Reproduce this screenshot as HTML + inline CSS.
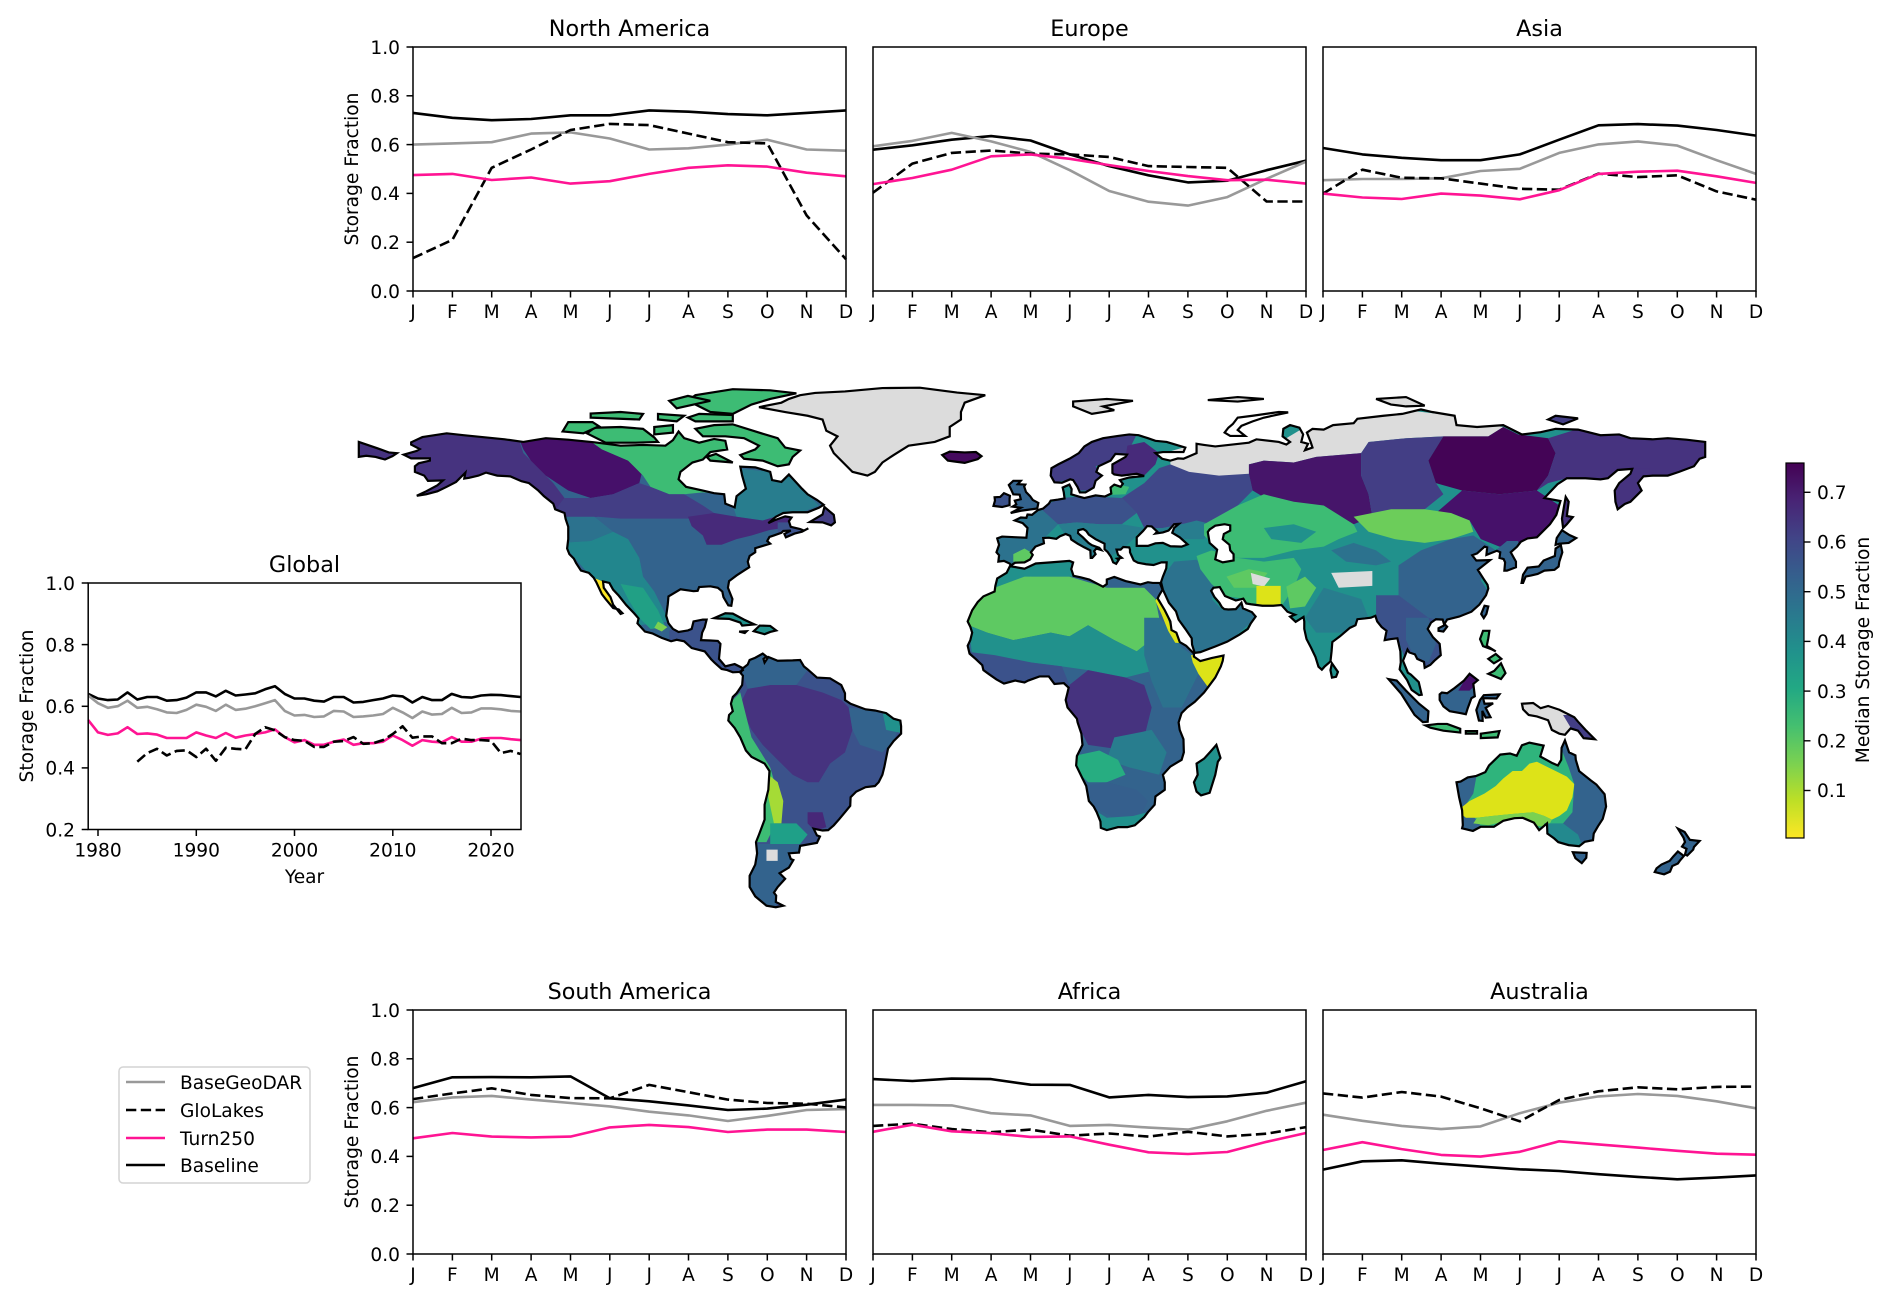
<!DOCTYPE html>
<html>
<head>
<meta charset="utf-8">
<style>
  html, body { margin:0; padding:0; background:#ffffff; }
  body { width:1892px; height:1304px; overflow:hidden; }
  svg { display:block; font-family:"DejaVu Sans","Liberation Sans",sans-serif; }
  .t { font-size:18.6px; fill:#000; }
  .ti { font-size:22.3px; fill:#000; }
</style>
</head>
<body>
<svg width="1892" height="1304" viewBox="0 0 1892 1304" xmlns="http://www.w3.org/2000/svg">
<defs>
  <linearGradient id="vir" x1="0" y1="0" x2="0" y2="1">
    <stop offset="0" stop-color="#440154"/>
    <stop offset="0.1" stop-color="#482475"/>
    <stop offset="0.2" stop-color="#414487"/>
    <stop offset="0.3" stop-color="#355f8d"/>
    <stop offset="0.4" stop-color="#2a788e"/>
    <stop offset="0.5" stop-color="#21918c"/>
    <stop offset="0.6" stop-color="#22a884"/>
    <stop offset="0.7" stop-color="#44bf70"/>
    <stop offset="0.8" stop-color="#7ad151"/>
    <stop offset="0.9" stop-color="#bddf26"/>
    <stop offset="1" stop-color="#fde725"/>
  </linearGradient>
</defs>

<!-- ================= MAP ================= -->
<g transform="matrix(3.74 0 0 -3.74 1032 700)">
  <defs>
    <polygon id="pNA" vector-effect="non-scaling-stroke" points="-166,68.9 -163,70.3 -156.5,71.3 -152,70.8 -145,70.1 -141,69.7 -136,69 -130,70 -124,69.6 -117,68.9 -110,68 -104,68.2 -98,68 -96,69.5 -94.5,71.8 -93,70 -89,68.8 -85,69.8 -82,69.3 -81.5,67 -86,66.3 -88,64.3 -90.8,63.5 -94,61 -94.5,59 -92.5,57 -88,56 -85,55.3 -82.3,55 -82,52.5 -79.5,51.5 -79,54.5 -76.5,56.5 -77.5,60 -78,62.4 -74,62.2 -70,61 -69.5,58.8 -67,58.3 -65,60.3 -61.5,56.5 -60,55 -57.5,53.5 -55.7,52.2 -57,51.4 -60,50.2 -64,50.2 -66.5,50 -68.5,49 -70.5,47.3 -69,48 -66,49.1 -64.3,48.8 -65,47.8 -64.5,46.3 -62,45.7 -61,45.3 -59.8,45.9 -61.5,45 -63.5,44.5 -65.8,43.5 -66.2,44.4 -64.5,45.3 -66.5,45.2 -67,44.7 -69,44 -70.2,43.6 -70.8,42.5 -70,41.8 -72,41.2 -74,40.6 -74,39.5 -75.5,38.5 -76,37 -75.6,35.5 -77,34.6 -79,33.3 -81,31.8 -81.3,30 -80.1,27 -80.4,25.2 -81.2,25.3 -82.5,27.5 -82.8,29 -84,30 -86,30.4 -89,30.2 -89.4,29.2 -90.5,29.1 -94,29.6 -97.2,27.7 -97.4,25.5 -97.8,22.5 -97.2,20.5 -96,19 -94.5,18.2 -92,18.6 -91,19 -90.5,21 -88,21.5 -87,21.5 -87.5,19.5 -88.2,18 -88.5,16 -86,15.9 -84,15.8 -83.3,15 -83.6,12 -83.7,11 -82,9 -79.5,9.6 -77.5,8.6 -77.3,8 -78.2,7.5 -80,7.4 -81.5,8 -83,8.3 -84.8,9.9 -85.8,10.9 -87.5,13 -91,13.9 -93,15.7 -95,16.1 -96.5,15.7 -99,16.6 -101.5,17.8 -103.5,18.3 -105.5,20.5 -105.2,21.8 -106.4,23.2 -108.5,25.4 -110.5,27.9 -112,29.5 -113,31.3 -114.7,31.7 -114.5,30 -112.7,27.5 -112,25.5 -110,23 -109.5,23.2 -110.5,24.2 -112,24.6 -114,27 -115,28.3 -116.5,31.5 -117.2,32.7 -118.5,34 -120.6,34.6 -121.9,36.6 -122.5,37.8 -123.7,39 -124.3,40.5 -124,43 -124,46.3 -124.7,48.4 -125,50 -127.5,51 -128,52.5 -130.5,54.5 -132,56 -134.5,58 -136.5,58.5 -139.5,59.8 -143,60 -146,60.8 -148,60 -150.5,59.4 -151.8,59.2 -151.5,60.8 -154,58.3 -156.5,57 -159,55.8 -162,55 -164.5,54.6 -162,55.8 -159,57.4 -157.5,58.7 -161.5,58.6 -162.5,60 -165,61 -165,62.5 -164,63.3 -161,64 -161,64.6 -166,64.6 -168,65.6 -164.5,66.6 -163.7,67.1 -166,68.3"/>
    <polygon id="pSA" vector-effect="non-scaling-stroke" points="-77.3,8.5 -76,9.5 -75.5,10.7 -74,11.3 -72,12.4 -71,11.6 -71.8,11 -71.5,10 -70.5,11.5 -68,10.5 -64,10.6 -62,10.7 -61,9 -60,8.2 -57.5,6 -54,5.8 -52,4.6 -51,4 -50,1.8 -50,0 -48.5,-1 -44.5,-2.5 -42,-2.8 -39,-3.5 -37,-5 -35.2,-5.5 -35,-7 -35,-9 -37,-11 -38.5,-13 -39,-15.5 -39.5,-18 -40,-20 -41,-22 -42,-23 -44.5,-23.3 -47,-24.5 -48.5,-26 -48.6,-28.3 -50,-30 -51.5,-31.8 -53,-33.5 -54.5,-34.8 -56,-34.9 -58.4,-34.4 -57.5,-36.2 -56.7,-36.5 -57.5,-38.2 -62,-39 -62.3,-40.8 -65,-41 -64.5,-42.5 -63.8,-42.8 -65,-44.8 -67.5,-46.3 -66,-47.8 -68,-50 -69,-51.5 -68.4,-52.3 -68.5,-54 -66.5,-55 -68.5,-55.4 -71,-55 -74,-52.5 -75.5,-50 -75.5,-47 -74,-44 -73.5,-41 -73.8,-38 -73,-36 -71.5,-32 -71.5,-28 -70.5,-24 -70.2,-19 -71.5,-17 -75,-15.2 -76.5,-13.5 -78,-10 -79.5,-7.5 -81.2,-5.5 -81,-4 -80,-3 -80.5,-1 -80,0.8 -79,1.8 -78.5,2.5 -77.5,4 -77.3,6.5 -77.9,7.2"/>
    <polygon id="pAF" vector-effect="non-scaling-stroke" points="-17.2,21 -16,24 -14.5,26.2 -13,27.7 -10,29 -9.8,30.5 -9.3,32.5 -6.8,34 -5.9,35.8 -2,35.1 1,36.5 5,36.8 10,37.2 11,36.8 10.5,35 11.1,33.2 13,32.8 15.3,32.2 19,30.3 20,31 20,32.2 22,32.9 25,31.8 29,30.9 31,31.5 32.3,31.3 34.2,31.3 34.9,29.5 34,28 33.6,27.2 35.5,24 37,21 37.3,18.7 38.6,18 39.5,15.5 41.2,14.5 43.3,12.4 43.3,11.6 45,10.4 48,11.2 51.2,11.9 51,10.5 50.5,9 49,6 47.5,4 46,2 43.5,-0.5 41.5,-2 40,-3.5 39.2,-6 39.5,-8 40.5,-10.5 40.6,-14 40,-16 37,-17.8 35,-20 35.5,-22 35.5,-24 33,-25.8 32.8,-28 31,-30 30,-31.3 27.5,-33.5 25.5,-34 23,-34 20,-34.8 18.4,-34.2 18.3,-32.5 17.3,-30 16.5,-28.5 15.2,-27 14.5,-23 13.5,-21 11.8,-17.5 12,-15 13.5,-12 13.2,-9 12.2,-6 12,-5 9.5,-2 9,0 9.5,2 9.8,3.3 8.5,4.5 6,4.3 4.5,6.3 2,6.3 -1,5.2 -2,4.7 -4.5,5.2 -7.5,4.4 -9.5,5.5 -11.5,6.9 -13,8 -13.3,9.3 -15,10.9 -16.7,12.4 -17.2,14.5 -16.5,16 -16,18 -16.5,19.6"/>
    <polygon id="pEU" vector-effect="non-scaling-stroke" points="-9.3,43.2 -8,43.7 -4,43.5 -1.5,43.4 -1.2,46 -2.5,47.3 -4.6,48 -3,48.8 -1.5,48.7 -1.2,49.6 0,49.5 1.6,50.8 3,51.2 4.5,52.5 5,53.3 7,53.6 8.7,53.9 8.5,55.5 8.2,56.8 10,57.6 10.6,56.4 10.5,55 12.5,54.4 14,54 17,54.7 19.5,54.4 21.2,55.2 21,56.8 22,57.6 23.7,57 24.3,57.8 23.5,58.8 26,59.5 30,59.9 28,60.5 24,60 22,60.3 21.5,60.7 21.5,63 25,65 25.4,65.6 22.3,65.8 21,64 17.8,62.5 17.2,61 18.7,60 17,58.6 16.5,56.8 14.3,55.5 12.8,55.5 12.2,56.9 11,58.8 10.2,59 8,58.1 6,58.2 5,60 5.2,62 7,63 10,64.5 12.5,66 14,67.8 16,69 19,70 23,70.6 26,71 28.5,70.8 31,70 33,69.3 36,69 41,67.5 40.5,66.3 35,66.3 33,66 34.8,64.5 37,64 39,64.6 40.5,64.5 44,66 44,68.5 46,68.2 49,67.8 53.5,68.3 58,68.8 60,69.7 66,69 68,68.3 69,69 67,70.5 67.2,72.5 69,73.5 71.5,72.8 72.5,71 72,69 73.8,68.5 73,66.8 75,67.5 74.5,69 73.5,71.5 75,72.5 78,72.3 80.5,73.5 86,74 87,75.2 94,76 99,76.5 104,77.7 107,77 113,76 113.5,73.5 119,73 126,73.5 129,72 131,71 136,71.6 140,72.5 146,72.3 152,70.8 157,71 160,70 166,69.7 170,70 175,69.6 180,69 180,65 178.5,64.5 177,62.5 173,61 170,60 166,60 163.5,59.8 162,58 163,56 161.8,54.8 160,53 158.5,52.4 156.6,51 156,53 155.8,56 157,58 160,60.5 160.5,61.8 156.6,61.5 154,59.3 152,59 148,59.3 143,59.3 140.5,57.7 137,54 141.3,53.2 140.2,49.5 138.5,47 135,43.5 132.5,43.2 130.7,42.3 129.7,41 128,39.5 129.4,37 129.4,35.5 127,34.6 126.3,34.6 126.5,36.8 126.1,37.7 125,38 125.2,39.5 124.3,39.9 121.5,38.8 121.7,40.8 121,41 119,39.2 117.7,38.7 118.8,37.3 122.5,37.4 119.2,34.8 120.8,32.3 121.8,30.8 122,29.8 121.4,28 119.6,25.5 117.5,23.6 114.2,22.3 111,21.5 110.2,20.2 109.8,21.5 108,21.6 106.7,20.7 105.8,19 107.2,16.8 109,15 109.3,12 107.6,10.5 106.5,9.4 105,8.6 104.8,10.2 103,11 102.4,12.2 100.9,12.7 100.4,13.5 99.2,10.5 100.5,7.3 101.3,6.8 103.4,4.8 104.2,1.4 103.5,1.3 101.5,2.7 100.3,5.3 98.3,8.2 98.6,10 98.5,13 97.7,16.5 96,16.3 94.3,16 94.8,18.5 93.5,19.5 92.3,21 91.8,22.5 90.6,22 89,21.8 87,21.6 86.5,20 85,19.3 82.3,17 80.3,15.5 80.1,13 79.8,10.3 78.2,8.9 77.5,8.1 76.6,8.9 75.8,11.5 74.6,14 73.4,16.3 72.8,19 72.8,21 72.6,22.2 70.5,20.9 69,22.3 70.3,22.8 68.3,23.6 66.7,25.4 64.5,25.2 61.6,25.2 58.5,25.6 57.3,25.8 56.5,27.1 54.5,26.6 51.6,27.8 50.2,30.2 48.5,30 47.9,29.2 48.8,27.5 50.1,26 50.8,24.8 51.4,24.3 52.5,24.2 54.5,24.3 56,26 56.4,24.5 58.8,23.5 59.8,22.3 58.5,20.5 57.7,19 55.5,17.5 52.2,15.6 49,14.3 45,12.8 43.5,12.6 42.8,14.8 42.7,16.5 41,19 39.2,21.5 38.5,23.7 36.6,26 35.7,28 35,29.5 34.5,31.5 35,33 35.9,35.2 36,36.8 34.6,36.8 32.5,36.1 30.5,36.3 28.3,36.7 27.2,37.3 26.7,38.4 26.2,39.5 26.2,40.2 26,40.8 24.4,40.9 23.7,40.2 22.6,40.2 23,38.8 24,38 22.8,37.8 23.2,37.5 22.5,36.4 21.7,36.8 21.1,38.3 20.2,39.6 19.4,40.3 19.4,41.8 17,43 15.2,44.2 14.5,45.2 13.7,45.7 12.4,45.4 12.3,44.6 13.6,43.5 15.1,42 16,41.4 18,40.7 18.5,40.1 17.2,40.5 16.6,39.8 17,39 16.1,38 15.7,38 15.6,40 14,40.8 12.2,41.8 10.5,42.9 10.2,43.9 9,44.4 7.5,43.8 6.5,43.1 4.5,43.4 3,43.3 3.2,41.9 0.9,41 -0.3,39.5 0.2,38.8 -0.5,37.6 -2,36.8 -4.5,36.7 -5.6,36 -6,36.5 -7.5,37.2 -9,37 -8.8,38.7 -9.5,39.5 -8.8,41.5"/>
    <polygon id="pAU" vector-effect="non-scaling-stroke" points="113.5,-22 114.2,-26 115,-29.5 115.2,-33.5 115,-34.3 117.9,-35 120,-33.9 123.5,-33.9 126,-32.3 129,-31.6 131.2,-31.5 134.2,-32.8 135.6,-34.8 137.7,-33 137.8,-35.7 139.6,-37 140.7,-38 143.5,-38.8 146.3,-39.1 147.8,-37.9 150,-37.5 150.2,-35.7 151.3,-33.8 152.6,-31.8 153.5,-28.5 153.1,-25.2 150.9,-22.6 149.4,-21.5 146.3,-19 145.4,-16 145.3,-14.8 143.6,-14 142.5,-10.8 141.6,-12.8 141.5,-16 140.6,-17.5 139,-16.8 135.9,-15.1 136.8,-12.2 133,-11.4 131,-12.1 129.6,-14.9 127.8,-14.3 125.2,-14.6 122.2,-17.5 121.2,-19.3 118.8,-20.3 116.5,-20.7 114.6,-21.8"/>
    <polygon id="pGL" vector-effect="non-scaling-stroke" points="-73,78.3 -66,77 -60,76 -56,75 -55,72 -52,70.5 -54,68 -53,66 -50,63 -48,61 -44,60 -42,61 -40,63.5 -37,65.5 -33,68 -26,69 -22,70.5 -22,73 -19,75 -19,77 -18,79.5 -12.5,81.5 -20,82.2 -30,83.5 -40,83.4 -50,82.5 -58,82.1 -62,81.5 -65,80.5 -67,79.5"/>
    <polygon id="pNG" vector-effect="non-scaling-stroke" points="131,-1 134,-0.8 136,-2.2 138,-1.6 141,-2.6 145,-4.6 146,-5.8 148,-8 150.5,-10.5 147.5,-10.2 146,-8.2 144,-7.6 142.5,-9.3 141,-9 139,-8 138,-5.4 135,-4.4 132.8,-4 131.3,-2.5"/>
    <polygon id="pBO" vector-effect="non-scaling-stroke" points="109,1.5 109.6,2 111,1.8 113,3.2 115.5,5.2 117,7 119.2,5.3 118,4.3 118.4,1 117.5,0.5 116.5,-2.2 116,-3.8 114.5,-3.5 111.7,-3 110,-1.7 109,0"/>
    <clipPath id="cNA"><use href="#pNA"/></clipPath>
    <clipPath id="cSA"><use href="#pSA"/></clipPath>
    <clipPath id="cAF"><use href="#pAF"/></clipPath>
    <clipPath id="cEU"><use href="#pEU"/></clipPath>
    <clipPath id="cAU"><use href="#pAU"/></clipPath>
    <clipPath id="cNG"><use href="#pNG"/></clipPath>
    <clipPath id="cBO"><use href="#pBO"/></clipPath>
  </defs>

  <!-- North America -->
  <g clip-path="url(#cNA)" stroke="none">
    <use href="#pNA" fill="#33638d"/>
    <polygon fill="#46337f" points="-170,72 -138,72 -136,66 -132,62 -128,58 -125,54 -128,50 -140,55 -170,52"/>
    <polygon fill="#46106a" points="-138,72 -122,72 -115,67 -108,64 -104,62 -105,58 -112,55 -118,54 -124,56 -130,60 -134,64 -136,67"/>
    <polygon fill="#3dbc74" points="-122,72 -80,72 -80,60 -82,55 -88,55.5 -93,55 -97,55 -102,57 -104,60 -108,64 -115,67"/>
    <polygon fill="#433e85" points="-128,50 -125,54 -118,54 -112,55 -105,58 -102,57 -97,55 -93,55 -88,52 -85,50 -92,48.5 -100,48.5 -110,48.5 -116,49 -121,48.5 -125,48"/>
    <polygon fill="#287d8e" points="-82,55 -80,62 -64,60.5 -60,55 -57,52 -62,50 -68,49 -72,48 -79,49 -80,52"/>
    <polygon fill="#472a7a" points="-92,49 -85,50 -79,49 -72,48 -67,49.5 -64,48.5 -66,46 -70,45.5 -75,44 -79,43 -83,41.5 -87,41.5 -88,44 -91,46.5"/>
    <polygon fill="#3b528b" points="-68,47.5 -55,47.5 -55,43 -68,43.5"/>
    <polygon fill="#2c728e" points="-126,49 -117,49 -112,45 -118,42.5 -126,42"/>
    <polygon fill="#22868d" points="-126,42 -118,42.5 -112,45 -108,43 -105,38 -104,33 -101,29 -99,25 -97,21 -105,20 -112,28 -118,33 -124,40"/>
    <polygon fill="#21a085" points="-110,31 -104,30 -100,24 -98,19.5 -102,19 -105,22 -108,27"/>
    <polygon fill="#7ad151" points="-100,21 -97.5,19.5 -99,18.3 -101,19.3"/>
    <polygon fill="#fde725" points="-117.5,32.8 -114.7,31.7 -114.5,30 -112.7,27.5 -112,25.5 -110,23 -109.5,23.2 -110.5,24.2 -112,24.6 -114,27 -115,28.3 -116.5,31.5"/>
    <polygon fill="#3b528b" points="-97,18.5 -92,22 -85,22 -75,5 -80,5 -90,12 -97,15"/>
  </g>
  <polygon fill="#46337f" stroke="#000" stroke-width="2.2" vector-effect="non-scaling-stroke" points="-180,69 -175,67.3 -172,66.2 -169.8,66 -171,65.2 -173,64.3 -175.5,65 -178,65.3 -180,65"/>

  <!-- Canadian Arctic islands -->
  <g fill="#3dbc74" stroke="#000" stroke-width="2.2">
    <polygon vector-effect="non-scaling-stroke" points="-80,73.7 -73,71.5 -68,70 -66,67.5 -62,66.7 -64,65 -65,63 -68,62.5 -72,64 -77,64.5 -78,65.5 -74,67 -73,68 -77,70 -82,70.5 -88,70.5 -90,72.5 -85,73.5"/>
    <polygon vector-effect="non-scaling-stroke" points="-80,76.5 -75,79 -70,80.5 -63,82 -70,82.8 -80,83.1 -90,81.5 -92,80 -88,78 -86,77"/>
    <polygon vector-effect="non-scaling-stroke" points="-80,74.5 -80,76.2 -89,76.5 -92,75.5 -90,74.5"/>
    <polygon vector-effect="non-scaling-stroke" points="-100,69 -106,68.8 -114,68.8 -119,71.3 -117,72.8 -110,73 -104,72.5 -101,70.2"/>
    <polygon vector-effect="non-scaling-stroke" points="-120,71.3 -125.5,71.8 -124,74.3 -117.5,74.3 -115.8,73.2"/>
    <polygon vector-effect="non-scaling-stroke" points="-118,75.5 -105,75 -104,76.5 -110,77 -118,76.6"/>
    <polygon vector-effect="non-scaling-stroke" points="-100,75 -95,74.5 -93,76 -100,76.5"/>
    <polygon vector-effect="non-scaling-stroke" points="-101,71 -96,71.5 -96,73.5 -101,73"/>
    <polygon vector-effect="non-scaling-stroke" points="-86,64 -80,63.5 -84.5,65.8 -87,65"/>
    <polygon vector-effect="non-scaling-stroke" points="-95,78 -86,80 -92,81.3 -97,80"/>
  </g>
  <polygon fill="#433e85" stroke="#000" stroke-width="2.2" vector-effect="non-scaling-stroke" points="-59.4,47.6 -56,49.6 -55.5,51.6 -53,49.5 -52.7,47.5 -53.7,46.7 -56,47.5"/>
  <use href="#pGL" fill="#dcdcdc" stroke="#000" stroke-width="2.2"/>
  <polygon fill="#450a5e" stroke="#000" stroke-width="2.2" vector-effect="non-scaling-stroke" points="-24,65.5 -22,66.4 -18,66.2 -15,66.3 -13.5,65.2 -14.5,64.4 -18,63.4 -21,63.8 -22.5,64"/>
  <g fill="#21918c" stroke="#000" stroke-width="2.2">
    <polygon vector-effect="non-scaling-stroke" points="-85,21.9 -82,23.2 -80,23.1 -77,21.5 -74.2,20.2 -77.5,19.9 -78,20.7 -81,21.7 -84,21.8"/>
    <polygon vector-effect="non-scaling-stroke" points="-74.4,18.4 -72.8,19.9 -70,19.8 -68.4,18.6 -70,18.2 -71.5,17.6"/>
    <polygon vector-effect="non-scaling-stroke" points="-78.3,18.3 -76.3,18.4 -76.8,17.9"/>
  </g>

  <!-- South America -->
  <g clip-path="url(#cSA)" stroke="none">
    <use href="#pSA" fill="#3b528b"/>
    <polygon fill="#46337f" points="-78,-1 -76,3 -70,4 -63,4 -56,2 -51,0 -49,-2 -48,-8 -50,-14 -54,-17 -57,-22 -60,-22 -64,-20 -68,-16 -72,-12 -75,-8 -77,-4"/>
    <polygon fill="#33638d" points="-78,9 -72,13 -62,11 -60,8 -63,4 -70,4 -76,3"/>
    <polygon fill="#33638d" points="-49,-2 -42,-2.8 -35,-6 -37,-11 -40,-14 -46,-12 -48,-8"/>
    <polygon fill="#21918c" points="-40,-3 -34,-5 -34,-9 -39,-8"/>
    <polygon fill="#3dbc74" points="-82,-4 -80,0 -78,2 -77,-2 -75,-10 -70,-18 -68,-25 -69,-34 -71,-38 -74.5,-38 -71.5,-28 -70.3,-19 -76,-14 -79.5,-7.5"/>
    <polygon fill="#a5db36" points="-70.5,-20 -68,-22 -66.5,-27 -67,-33 -69,-33 -70.5,-26"/>
    <polygon fill="#1fa088" points="-70,-33 -63,-33 -60,-36 -62,-38.5 -70,-38.5"/>
    <polygon fill="#33638d" points="-76,-38.5 -62,-38.5 -62,-41 -65,-45 -68,-50 -68.5,-56 -76,-56"/>
    <polygon fill="#472878" points="-60,-30 -56,-30 -55,-34 -58,-35 -60,-33"/>
    <polygon fill="#dcdcdc" points="-71,-40 -68,-40 -68,-43 -71,-43"/>
  </g>

  <!-- Africa -->
  <g clip-path="url(#cAF)" stroke="none">
    <use href="#pAF" fill="#33638d"/>
    <polygon fill="#21918c" points="-18,21 -18,29 -10,30 -9,33 -6,36 0,36.5 10,38 11.5,33 5,33 0,33 -5,31 -10,26"/>
    <polygon fill="#5ec962" points="-17,28 -10,30 -2,33 10,33 20,30 30,30 33,27 34,22 33,17 28,13 22,16 15,20 10,17 5,18 -5,16 -12,18 -17,20"/>
    <polygon fill="#21918c" points="-17,20 -12,18 -5,16 5,18 10,17 15,20 22,16 28,13 33,17 36,12 33,8 25,6 15,8 8,9 0,10 -8,11 -16,12"/>
    <polygon fill="#3b528b" points="-18,13 -10,12 0,10 8,9 10,4 5,4 -5,4 -12,6"/>
    <polygon fill="#2c728e" points="30,22 34,22 38,18 40,14 43,12 45,8 42,2 40,-2 35,-2 32,5 30,12"/>
    <polygon fill="#46337f" points="10,4 15,8 25,6 30,4 32,-2 30,-10 28,-14 22,-13 15,-12 12,-6 9,-1"/>
    <polygon fill="#dde318" points="42.5,12 51.5,12 49,6 47,3.5 44.5,7 43,10"/>
    <polygon fill="#dde318" points="33.4,27.3 35.6,24 37.2,19 38.8,17.8 39.8,15.2 38.3,15.3 36.4,18.5 34.6,23 33,26.5"/>
    <polygon fill="#287d8e" points="22,-10 32,-8 36,-14 34,-20 26,-18 20,-16"/>
    <polygon fill="#27ad81" points="11,-15 18,-13.5 23,-16 25,-20 20,-22 15,-22 12,-19"/>
    <polygon fill="#355f8d" points="14,-23 20,-22 28,-24 31,-27 29,-31 22,-31.5 17,-29"/>
    <polygon fill="#21918c" points="16,-29 20,-31.5 27,-31 31,-30 30,-33 26,-35 18,-35"/>
  </g>
  <polygon fill="#21918c" stroke="#000" stroke-width="2.2" vector-effect="non-scaling-stroke" points="49.3,-12 50.4,-15.5 49.7,-16.5 49,-20 47.5,-24.8 45.2,-25.5 44,-24.5 43.3,-22 44.3,-20 44,-17 46,-15.7 47.9,-13.6"/>

  <!-- Eurasia -->
  <g clip-path="url(#cEU)" stroke="none">
    <use href="#pEU" fill="#21918c"/>
    <polygon fill="#2c728e" points="-10,44 3.5,43.5 3.5,41 0,38.5 -2,36.5 -10,36"/>
    <polygon fill="#5ec962" points="-5,37 -1,37 0.5,39 -2,40.5 -5,39"/>
    <polygon fill="#2c728e" points="-5,49 -1,50 2,51.5 6,50 7,47 5,45 3,43 -1.5,43.4 -1.2,46 -2.5,47.3 -4.6,48"/>
    <polygon fill="#3b528b" points="2,51.5 8,54 14,54.5 24,54 28,50 24,47 18,47 12,47.5 7,47"/>
    <polygon fill="#287d8e" points="7,47 12,47.5 18,47 24,47 28,44 24,40 20,38 15,37 12,40 9,44"/>
    <polygon fill="#433e85" points="4,58 11,59 12,56 16,56 19,60 17,62.5 21,64 25.5,66 28,71 15,70 5,62"/>
    <polygon fill="#472a7a" points="21,60 30,60 33,63 34,66 30,69 25.5,68 25,65 21.5,63"/>
    <polygon fill="#3dbc74" points="20.5,54.8 25,55 26,57 22,57.8"/>
    <polygon fill="#3f4889" points="24,54 30,58 34,62 40,64 42,63 50,62 58,60.5 59,56 55,52 48,47 40,47 35,46 30,46 28,50"/>
    <polygon fill="#287d8e" points="24,47 30,46 35,46 40,47 44,48 48,47 46,43 40,43 35,44 30,45 27,44 22,44 20,46"/>
    <polygon fill="#dcdcdc" points="37,66.5 44,68.5 53,68.5 60,69.7 68,70 73,73 80,74 87,75.5 100,77.5 113,76 120,73.8 126,73 122,70.5 110,70.5 100,70 90,69 88,66 76,65 70,63.5 62,64 58,63 58,60.5 50,60 42,61 37,63"/>
    <polygon fill="#46156a" points="58,60.5 58,63 62,64 70,63.5 76,65 88,66 88,60 90,55 91,49 86,47 80,48 73,50 64,53 59,56"/>
    <polygon fill="#433e85" points="88,66 90,69 100,70 110,70.5 106,64 108,58 110,55 105,51 96,50 91,49 90,55 88,60"/>
    <polygon fill="#440456" points="106,64 110,70.5 122,70.5 126,73 130,71 138,70 140,66 138,60 135,56 125,55 115,56 108,58"/>
    <polygon fill="#46337f" points="138,70 146,72.5 180,70 180,62 170,60 162,58 155,59 143,59.3 138,58 135,56 138,60 140,66"/>
    <polygon fill="#46337f" points="155,62 165,62 165,50 155,50"/>
    <polygon fill="#46116a" points="108,50 115,56 125,55 135,56 141,52 139,47 135,43.5 130,42 125,41 120,43 117,48 112,50"/>
    <polygon fill="#3dbc74" points="46,47 55,52 62,55 70,53 78,52 86,47 87,45 82,43 78,41 70,40 62,38 55,38 50,40 46,44"/>
    <polygon fill="#21918c" points="62,46 70,47 76,45 72,42 64,43"/>
    <polygon fill="#6ccd5a" points="86,49 96,51 105,51 112,50 117,48 118,45 112,43 105,42 97,43 90,45"/>
    <polygon fill="#33638d" points="98,36 104,40 112,43 118,44 121,42 124,40 127,42.5 130,42.5 130,34 126,34 122,37 120,32 122,29 118,24 112,21 106,21 100,22 98,27"/>
    <polygon fill="#2c728e" points="80,40 86,42 92,40 96,37 92,36 84,37"/>
    <polygon fill="#dcdcdc" points="80,34 91,34.5 91,30.5 82,30"/>
    <polygon fill="#2c728e" points="35,33 38,37 44,37.5 48,34 50,30 48,27 51,24 56,26 60,22 52,15 43,12.5 39,21 35,29.5 34.5,31.5"/>
    <polygon fill="#3dbc74" points="44,38.5 48,40 55,38 62,37 70,38 72,35 70,30 67,25.5 58,25.6 56.5,27.1 51.6,27.8 48,31 45,35"/>
    <polygon fill="#5ec962" points="52,33 58,35 63,34 60,30 54,30"/>
    <polygon fill="#dcdcdc" points="58.5,34 63.7,32.5 62,30.3 59,31"/>
    <polygon fill="#dde318" points="60,30.5 66.5,30.5 66.5,25 60,25.3"/>
    <polygon fill="#5ec962" points="68,30.3 73,33 76,30 73,25 69,24.5"/>
    <polygon fill="#287d8e" points="73,22 78,30 88,27 90,22 84,18 76,18"/>
    <polygon fill="#3b528b" points="92,28 98,28 106,22 110,21 109,12 105,8.6 100,10 98,16 94,16 92,22"/>
    <polygon fill="#33638d" points="100,22 106,22 108,15 106,10 102,12 100,16"/>
  </g>
  <!-- seas -->
  <polygon fill="#fff" stroke="#000" stroke-width="2.2" vector-effect="non-scaling-stroke" points="28,41.2 28,43.5 29.7,45.2 30.8,46.5 32,46.4 33.5,45 33,44.5 35,44.8 36.5,45.3 38,47 39.3,47.1 38,46 37.5,44.7 39.5,43.5 41.6,41.6 40,41 37,41.1 35,42 33,41.9 31,41.2 29,41.2"/>
  <polygon fill="#fff" stroke="#000" stroke-width="2.2" vector-effect="non-scaling-stroke" points="47,44.9 47.5,45.6 49,46.6 51.5,47 53,46.7 53,45.3 51.3,44.4 51,43 52.8,41.5 53,40 53.9,39 53.9,37.3 51,36.8 49,37.6 49.5,40.2 47.5,42"/>

  <!-- Europe/Asia islands -->
  <polygon fill="#33638d" stroke="#000" stroke-width="2.2" vector-effect="non-scaling-stroke" points="-5.7,50 -3,50.6 1.4,51.2 1.7,52.7 0.2,53.5 -0.5,54.5 -1.6,55.6 -2.1,57.1 -1.8,57.6 -3.8,57.7 -3,58.6 -5,58.6 -6.2,57.5 -5.6,56.3 -5,55 -3.3,54.9 -3,53.7 -4.6,53.3 -4.2,52.3 -5.2,51.7 -3,51.4"/>
  <polygon fill="#3b528b" stroke="#000" stroke-width="2.2" vector-effect="non-scaling-stroke" points="-6,52.1 -6,53.8 -5.9,54.6 -7.5,55.3 -8.5,54.3 -10,54.2 -9.9,53.3 -10.3,51.9 -8,51.6"/>
  <g fill="#33638d" stroke="#000" stroke-width="2.2">
    <polygon vector-effect="non-scaling-stroke" points="130.9,31.3 131.3,33.5 132.5,35.4 135.5,35.7 136.8,37.3 139.8,38.5 140,40.5 141.4,41.4 141.8,39.5 141,37 140.8,35.7 139.7,34.8 137,34.6 135.2,33.7 133.5,33.3 132,33 131.3,31.3"/>
    <polygon vector-effect="non-scaling-stroke" points="140,41.5 140.3,43.3 141.7,45.4 143.7,44.1 145.5,43.3 143.5,42 141,41.8"/>
    <polygon vector-effect="non-scaling-stroke" points="120.1,23 121,25.2 122,25 121.5,23 120.8,21.9"/>
    <polygon vector-effect="non-scaling-stroke" points="108.7,19.2 110.5,20.1 111,19.6 110,18.3 108.7,18.5"/>
    <polygon vector-effect="non-scaling-stroke" points="95.3,5.6 97.5,5.2 100,2.5 103.5,-1 106,-3 105.8,-5.8 104.5,-5.9 102.3,-4 100.4,-1 98.7,1.7"/>
    <polygon vector-effect="non-scaling-stroke" points="119.5,-5.5 120.5,-5.6 120.4,-2.9 121.3,-4.7 122.6,-4.6 121.3,-2.1 123.3,-0.9 121,-1 120.6,0.5 124.2,0.4 125,1.5 120.8,1.3 119.8,0 118.8,-2.7"/>
    <polygon vector-effect="non-scaling-stroke" points="172.7,-34.4 174.5,-35.3 175.9,-37.4 178.5,-37.7 177,-39.3 176.8,-40 175.2,-41.6 174.6,-41.3 175,-39.8 173.8,-39.2 174.6,-38 174.2,-36.8"/>
    <polygon vector-effect="non-scaling-stroke" points="172.7,-40.5 174.3,-41.7 173.2,-43 172.7,-43.7 171.2,-44.4 170.6,-45.9 169,-46.6 166.5,-46 167,-45 168.3,-44 170.5,-43 171.5,-41.8"/>
    <polygon vector-effect="non-scaling-stroke" points="144.6,-40.7 148.3,-40.9 148.2,-42.2 147,-43.6 145.3,-42.3"/>
  </g>
  <polygon fill="#46337f" stroke="#000" stroke-width="2.2" vector-effect="non-scaling-stroke" points="142,46 141.7,48.5 142.2,51.5 142.7,54.3 143.5,53 143,49.2 144.6,48.9 143,47"/>
  <polygon fill="#21918c" stroke="#000" stroke-width="2.2" vector-effect="non-scaling-stroke" points="79.8,8 80.2,9.8 81.8,7.5 81.3,6.2 80.2,6"/>
  <g fill="#3dbc74" stroke="#000" stroke-width="2.2">
    <polygon vector-effect="non-scaling-stroke" points="105.2,-6.8 108.5,-6.4 111,-6.4 114.5,-7.7 114.5,-8.7 110,-8.2 106.5,-7.4"/>
    <polygon vector-effect="non-scaling-stroke" points="120.6,18.5 122.3,18.5 122,16.5 121.6,14.5 124,13 123,13.5 120.6,14.4 119.8,16.3"/>
    <polygon vector-effect="non-scaling-stroke" points="122,7 123.6,7.8 125.4,9.8 126.6,7.2 125.4,5.6 124,6.2"/>
    <polygon vector-effect="non-scaling-stroke" points="122,11 124,12.3 125.5,11 123.5,9.8"/>
    <polygon vector-effect="non-scaling-stroke" points="116,-8.3 119,-8.3 119,-9 116,-9"/>
    <polygon vector-effect="non-scaling-stroke" points="120,-9 125,-8.3 124.5,-10 120,-10.2"/>
  </g>
  <g clip-path="url(#cBO)" stroke="none">
    <use href="#pBO" fill="#33638d"/>
    <polygon fill="#46106a" points="114,2.5 117,7.5 120,5.3 117,2.5"/>
  </g>
  <use href="#pBO" fill="none" stroke="#000" stroke-width="2.2"/>
  <g clip-path="url(#cNG)" stroke="none">
    <use href="#pNG" fill="#dcdcdc"/>
    <polygon fill="#433e85" points="142,-4 146,-4 151,-11 145,-9"/>
  </g>
  <use href="#pNG" fill="none" stroke="#000" stroke-width="2.2"/>
  <g fill="#dcdcdc" stroke="#000" stroke-width="2.2">
    <polygon vector-effect="non-scaling-stroke" points="11,78.5 16,76.5 22,77.5 19,78.5 27,80 20,80.5 11,79.8"/>
    <polygon vector-effect="non-scaling-stroke" points="96,79 100,78.5 105,78.7 100,81 92,80.5"/>
    <polygon vector-effect="non-scaling-stroke" points="47,80.2 55,81 62,80.5 55,79.8"/>
  </g>
  <polygon fill="#ffffff" stroke="#000" stroke-width="2.2" vector-effect="non-scaling-stroke" points="51.5,71.5 53,70.6 57,70.6 55,72.2 56,73.3 59,74.5 62,75.5 68.5,76.9 66,77 59,76 55,75.5 53.7,73.8 52.5,72.8"/>
  <polygon fill="#433e85" stroke="#000" stroke-width="2.2" vector-effect="non-scaling-stroke" points="138,75 142,73.7 146,75.3 140,76"/>

  <!-- Australia -->
  <g clip-path="url(#cAU)" stroke="none">
    <use href="#pAU" fill="#2fb47c"/>
    <polygon fill="#33638d" points="111,-19 119,-19.5 118,-25 116,-28 118,-31 121,-35 111,-35"/>
    <polygon fill="#dde318" points="114.5,-29 117,-27 121,-25 124,-23 126,-21 128.5,-19 131,-19 133,-17 135,-16.5 137,-17.5 140,-19 143,-20.5 145,-22.5 144.5,-26 143,-29.5 141,-31 139,-32 137,-31 134,-30 128,-30.5 123,-31 119,-31.5 116,-31.5 114.8,-30.5"/>
    <polygon fill="#7ad151" points="119,-31.5 123,-31 128,-30.5 134,-30 137,-31 139,-32 138,-34 134,-33.5 128,-32 122,-33.5 118,-33"/>
    <polygon fill="#33638d" points="142,-10 145,-14 147,-19 150,-22 154,-25 154,-29 151,-34 150,-38 146,-40 141,-39 140,-36 142,-33 144.5,-30 145,-22.5 143.5,-18 141.5,-13"/>
    <polygon fill="#23898e" points="137,-33 142,-33 146,-36 147.5,-40 140,-39.5 136,-36"/>
  </g>
  <use href="#pAU" fill="none" stroke="#000" stroke-width="2.2"/>

  <!-- coastline strokes -->
  <use href="#pNA" fill="none" stroke="#000" stroke-width="2.2"/>
  <use href="#pSA" fill="none" stroke="#000" stroke-width="2.2"/>
  <use href="#pAF" fill="none" stroke="#000" stroke-width="2.2"/>
  <use href="#pEU" fill="none" stroke="#000" stroke-width="2.2"/>
</g>

<!-- ================= COLORBAR ================= -->
<rect x="1786" y="463" width="18" height="375" fill="url(#vir)" stroke="#000" stroke-width="1.2"/>
<g stroke="#000" stroke-width="1.4">
  <line x1="1804" y1="492.3" x2="1810.5" y2="492.3"/>
  <line x1="1804" y1="542" x2="1810.5" y2="542"/>
  <line x1="1804" y1="591.7" x2="1810.5" y2="591.7"/>
  <line x1="1804" y1="641.4" x2="1810.5" y2="641.4"/>
  <line x1="1804" y1="691.1" x2="1810.5" y2="691.1"/>
  <line x1="1804" y1="740.8" x2="1810.5" y2="740.8"/>
  <line x1="1804" y1="790.5" x2="1810.5" y2="790.5"/>
</g>
<g class="t">
  <text x="1817" y="499">0.7</text>
  <text x="1817" y="548.7">0.6</text>
  <text x="1817" y="598.4">0.5</text>
  <text x="1817" y="648.1">0.4</text>
  <text x="1817" y="697.8">0.3</text>
  <text x="1817" y="747.5">0.2</text>
  <text x="1817" y="797.2">0.1</text>
</g>
<text class="t" transform="translate(1869,650) rotate(-90)" text-anchor="middle">Median Storage Fraction</text>

<!-- ================= TOP ROW ================= -->
<text class="ti" x="629.5" y="36" text-anchor="middle">North America</text>
<text class="ti" x="1089.5" y="36" text-anchor="middle">Europe</text>
<text class="ti" x="1539.5" y="36" text-anchor="middle">Asia</text>
<text class="t" transform="translate(358,169) rotate(-90)" text-anchor="middle">Storage Fraction</text>
<g stroke="#000" stroke-width="1.5">
  <line x1="406.5" y1="291" x2="413" y2="291"/>
  <line x1="406.5" y1="242.2" x2="413" y2="242.2"/>
  <line x1="406.5" y1="193.4" x2="413" y2="193.4"/>
  <line x1="406.5" y1="144.6" x2="413" y2="144.6"/>
  <line x1="406.5" y1="95.8" x2="413" y2="95.8"/>
  <line x1="406.5" y1="47" x2="413" y2="47"/>
</g>
<g class="t" text-anchor="end">
  <text x="400" y="297.8">0.0</text>
  <text x="400" y="249">0.2</text>
  <text x="400" y="200.2">0.4</text>
  <text x="400" y="151.4">0.6</text>
  <text x="400" y="102.6">0.8</text>
  <text x="400" y="53.8">1.0</text>
</g>

<g fill="none" stroke-width="2.6" stroke-linejoin="round">
  <polyline stroke="#000" points="413,112.9 452.4,117.8 491.7,120.2 531.1,119 570.5,115.3 609.8,115.3 649.2,110.4 688.5,111.7 727.9,114.1 767.3,115.3 806.6,112.9 846,110.4"/>
  <polyline stroke="#999" points="413,144.6 452.4,143.4 491.7,142.2 531.1,133.6 570.5,132.4 609.8,138.5 649.2,149.5 688.5,148.3 727.9,144.6 767.3,139.7 806.6,149.5 846,150.7"/>
  <polyline stroke="#000" stroke-dasharray="10.3,4.5" points="413,258.1 452.4,239.8 491.7,167.8 531.1,149.5 570.5,130 609.8,123.9 649.2,125.1 688.5,133.6 727.9,142.2 767.3,143.4 806.6,215.4 846,259.3"/>
  <polyline stroke="#ff1493" points="413,175.1 452.4,173.9 491.7,180 531.1,177.5 570.5,183.6 609.8,181.2 649.2,173.9 688.5,167.8 727.9,165.3 767.3,166.6 806.6,172.7 846,176.3"/>
</g>
<g fill="none" stroke-width="2.6" stroke-linejoin="round">
  <polyline stroke="#000" points="873,149.7 912.4,145.3 951.7,139.7 991.1,136.1 1030.5,140.5 1069.8,154.4 1109.2,166.1 1148.5,175.3 1187.9,182.4 1227.3,180.7 1266.6,170.2 1306,160.7"/>
  <polyline stroke="#999" points="873,146.3 912.4,140.9 951.7,132.9 991.1,141.4 1030.5,151.9 1069.8,170.2 1109.2,191 1148.5,201.7 1187.9,205.6 1227.3,197.1 1266.6,178.8 1306,161.7"/>
  <polyline stroke="#000" stroke-dasharray="10.3,4.5" points="873,192.7 912.4,163.6 951.7,152.9 991.1,150.5 1030.5,153.6 1069.8,154.4 1109.2,157 1148.5,166.1 1187.9,167 1227.3,167.8 1266.6,201.5 1306,201.5"/>
  <polyline stroke="#ff1493" points="873,184.1 912.4,178 951.7,169.7 991.1,156.3 1030.5,154.4 1069.8,158.8 1109.2,165.1 1148.5,171 1187.9,176.1 1227.3,180.2 1266.6,179.7 1306,183.6"/>
</g>
<g fill="none" stroke-width="2.6" stroke-linejoin="round">
  <polyline stroke="#000" points="1323,148 1362.4,154.4 1401.7,157.8 1441.1,160.2 1480.5,160.2 1519.8,154.4 1559.2,139.7 1598.5,125.3 1637.9,124.1 1677.3,125.6 1716.6,130 1756,135.6"/>
  <polyline stroke="#999" points="1323,180.2 1362.4,179 1401.7,179 1441.1,178.3 1480.5,171 1519.8,168.8 1559.2,152.9 1598.5,144.4 1637.9,141.4 1677.3,145.6 1716.6,160.2 1756,173.9"/>
  <polyline stroke="#000" stroke-dasharray="10.3,4.5" points="1323,193.6 1362.4,169.7 1401.7,177.8 1441.1,178.3 1480.5,183.6 1519.8,188.8 1559.2,189.7 1598.5,173.6 1637.9,177.1 1677.3,175.3 1716.6,191.4 1756,199.7"/>
  <polyline stroke="#ff1493" points="1323,193.6 1362.4,197.5 1401.7,199 1441.1,193.6 1480.5,195.6 1519.8,199.3 1559.2,190.2 1598.5,173.9 1637.9,171.7 1677.3,170.7 1716.6,176.3 1756,182.9"/>
</g>

<g fill="none" stroke="#000" stroke-width="1.5">
  <rect x="413" y="47" width="433" height="244"/>
  <rect x="873" y="47" width="433" height="244"/>
  <rect x="1323" y="47" width="433" height="244"/>
</g>
<g stroke="#000" stroke-width="1.5">
  <path d="M413,291v6.5M452.4,291v6.5M491.7,291v6.5M531.1,291v6.5M570.5,291v6.5M609.8,291v6.5M649.2,291v6.5M688.5,291v6.5M727.9,291v6.5M767.3,291v6.5M806.6,291v6.5M846,291v6.5"/>
  <path d="M873,291v6.5M912.4,291v6.5M951.7,291v6.5M991.1,291v6.5M1030.5,291v6.5M1069.8,291v6.5M1109.2,291v6.5M1148.5,291v6.5M1187.9,291v6.5M1227.3,291v6.5M1266.6,291v6.5M1306,291v6.5"/>
  <path d="M1323,291v6.5M1362.4,291v6.5M1401.7,291v6.5M1441.1,291v6.5M1480.5,291v6.5M1519.8,291v6.5M1559.2,291v6.5M1598.5,291v6.5M1637.9,291v6.5M1677.3,291v6.5M1716.6,291v6.5M1756,291v6.5"/>
</g>
<g class="t" text-anchor="middle">
  <text x="413" y="318">J</text><text x="452.4" y="318">F</text><text x="491.7" y="318">M</text><text x="531.1" y="318">A</text><text x="570.5" y="318">M</text><text x="609.8" y="318">J</text><text x="649.2" y="318">J</text><text x="688.5" y="318">A</text><text x="727.9" y="318">S</text><text x="767.3" y="318">O</text><text x="806.6" y="318">N</text><text x="846" y="318">D</text>
  <text x="873" y="318">J</text><text x="912.4" y="318">F</text><text x="951.7" y="318">M</text><text x="991.1" y="318">A</text><text x="1030.5" y="318">M</text><text x="1069.8" y="318">J</text><text x="1109.2" y="318">J</text><text x="1148.5" y="318">A</text><text x="1187.9" y="318">S</text><text x="1227.3" y="318">O</text><text x="1266.6" y="318">N</text><text x="1306" y="318">D</text>
  <text x="1323" y="318">J</text><text x="1362.4" y="318">F</text><text x="1401.7" y="318">M</text><text x="1441.1" y="318">A</text><text x="1480.5" y="318">M</text><text x="1519.8" y="318">J</text><text x="1559.2" y="318">J</text><text x="1598.5" y="318">A</text><text x="1637.9" y="318">S</text><text x="1677.3" y="318">O</text><text x="1716.6" y="318">N</text><text x="1756" y="318">D</text>
</g>

<!-- ================= BOTTOM ROW ================= -->
<text class="ti" x="629.5" y="999" text-anchor="middle">South America</text>
<text class="ti" x="1089.5" y="999" text-anchor="middle">Africa</text>
<text class="ti" x="1539.5" y="999" text-anchor="middle">Australia</text>
<text class="t" transform="translate(358,1132) rotate(-90)" text-anchor="middle">Storage Fraction</text>
<g stroke="#000" stroke-width="1.5">
  <line x1="406.5" y1="1254" x2="413" y2="1254"/>
  <line x1="406.5" y1="1205.2" x2="413" y2="1205.2"/>
  <line x1="406.5" y1="1156.4" x2="413" y2="1156.4"/>
  <line x1="406.5" y1="1107.6" x2="413" y2="1107.6"/>
  <line x1="406.5" y1="1058.8" x2="413" y2="1058.8"/>
  <line x1="406.5" y1="1010" x2="413" y2="1010"/>
</g>
<g class="t" text-anchor="end">
  <text x="400" y="1260.8">0.0</text>
  <text x="400" y="1212">0.2</text>
  <text x="400" y="1163.2">0.4</text>
  <text x="400" y="1114.4">0.6</text>
  <text x="400" y="1065.6">0.8</text>
  <text x="400" y="1016.8">1.0</text>
</g>
<g fill="none" stroke-width="2.6" stroke-linejoin="round">
  <polyline stroke="#000" points="413,1088.1 452.4,1077.3 491.7,1077.1 531.1,1077.3 570.5,1076.4 609.8,1098.3 649.2,1101.3 688.5,1105.4 727.9,1110 767.3,1108.6 806.6,1104.7 846,1099.6"/>
  <polyline stroke="#999" points="413,1102.2 452.4,1097.4 491.7,1095.9 531.1,1099.6 570.5,1103 609.8,1106.4 649.2,1111.7 688.5,1115.4 727.9,1121 767.3,1115.9 806.6,1110 846,1109.1"/>
  <polyline stroke="#000" stroke-dasharray="10.3,4.5" points="413,1099.1 452.4,1093.4 491.7,1088.3 531.1,1094.9 570.5,1098.1 609.8,1098.3 649.2,1084.9 688.5,1092.2 727.9,1099.6 767.3,1103 806.6,1103.7 846,1107.4"/>
  <polyline stroke="#ff1493" points="413,1138.3 452.4,1133 491.7,1136.6 531.1,1137.4 570.5,1136.6 609.8,1127.4 649.2,1124.9 688.5,1127.1 727.9,1132 767.3,1129.6 806.6,1129.6 846,1132"/>
</g>
<g fill="none" stroke-width="2.6" stroke-linejoin="round">
  <polyline stroke="#000" points="873,1079.1 912.4,1081 951.7,1078.6 991.1,1079.1 1030.5,1084.7 1069.8,1084.9 1109.2,1097.4 1148.5,1094.9 1187.9,1097.1 1227.3,1096.4 1266.6,1092.7 1306,1081.2"/>
  <polyline stroke="#999" points="873,1104.9 912.4,1104.9 951.7,1105.4 991.1,1113.2 1030.5,1115.4 1069.8,1125.9 1109.2,1124.9 1148.5,1127.6 1187.9,1129.6 1227.3,1121.3 1266.6,1110.8 1306,1102.7"/>
  <polyline stroke="#000" stroke-dasharray="10.3,4.5" points="873,1125.9 912.4,1123.7 951.7,1129.1 991.1,1132.2 1030.5,1129.6 1069.8,1135.7 1109.2,1133.5 1148.5,1136.6 1187.9,1131.8 1227.3,1136.4 1266.6,1133.7 1306,1127.1"/>
  <polyline stroke="#ff1493" points="873,1131.8 912.4,1124.7 951.7,1131.3 991.1,1133.2 1030.5,1136.9 1069.8,1136.4 1109.2,1144.7 1148.5,1152.3 1187.9,1154 1227.3,1152 1266.6,1141.8 1306,1133"/>
</g>
<g fill="none" stroke-width="2.6" stroke-linejoin="round">
  <polyline stroke="#000" points="1323,1169.6 1362.4,1161.3 1401.7,1160.3 1441.1,1163.7 1480.5,1166.6 1519.8,1169.3 1559.2,1171 1598.5,1174.2 1637.9,1176.9 1677.3,1179.3 1716.6,1177.6 1756,1175.4"/>
  <polyline stroke="#999" points="1323,1114.7 1362.4,1120.8 1401.7,1125.9 1441.1,1129.1 1480.5,1126.4 1519.8,1113.2 1559.2,1102.7 1598.5,1096.4 1637.9,1094 1677.3,1095.9 1716.6,1101.3 1756,1108.3"/>
  <polyline stroke="#000" stroke-dasharray="10.3,4.5" points="1323,1093.4 1362.4,1097.6 1401.7,1092 1441.1,1096.6 1480.5,1108.3 1519.8,1121.3 1559.2,1100 1598.5,1091.3 1637.9,1087.3 1677.3,1089.3 1716.6,1086.9 1756,1086.6"/>
  <polyline stroke="#ff1493" points="1323,1150 1362.4,1142.2 1401.7,1149.1 1441.1,1154.9 1480.5,1156.6 1519.8,1151.8 1559.2,1141.3 1598.5,1144.4 1637.9,1147.6 1677.3,1150.8 1716.6,1153.7 1756,1154.7"/>
</g>
<g fill="none" stroke="#000" stroke-width="1.5">
  <rect x="413" y="1010" width="433" height="244"/>
  <rect x="873" y="1010" width="433" height="244"/>
  <rect x="1323" y="1010" width="433" height="244"/>
</g>
<g stroke="#000" stroke-width="1.5">
  <path d="M413,1254v6.5M452.4,1254v6.5M491.7,1254v6.5M531.1,1254v6.5M570.5,1254v6.5M609.8,1254v6.5M649.2,1254v6.5M688.5,1254v6.5M727.9,1254v6.5M767.3,1254v6.5M806.6,1254v6.5M846,1254v6.5"/>
  <path d="M873,1254v6.5M912.4,1254v6.5M951.7,1254v6.5M991.1,1254v6.5M1030.5,1254v6.5M1069.8,1254v6.5M1109.2,1254v6.5M1148.5,1254v6.5M1187.9,1254v6.5M1227.3,1254v6.5M1266.6,1254v6.5M1306,1254v6.5"/>
  <path d="M1323,1254v6.5M1362.4,1254v6.5M1401.7,1254v6.5M1441.1,1254v6.5M1480.5,1254v6.5M1519.8,1254v6.5M1559.2,1254v6.5M1598.5,1254v6.5M1637.9,1254v6.5M1677.3,1254v6.5M1716.6,1254v6.5M1756,1254v6.5"/>
</g>
<g class="t" text-anchor="middle">
  <text x="413" y="1281">J</text><text x="452.4" y="1281">F</text><text x="491.7" y="1281">M</text><text x="531.1" y="1281">A</text><text x="570.5" y="1281">M</text><text x="609.8" y="1281">J</text><text x="649.2" y="1281">J</text><text x="688.5" y="1281">A</text><text x="727.9" y="1281">S</text><text x="767.3" y="1281">O</text><text x="806.6" y="1281">N</text><text x="846" y="1281">D</text>
  <text x="873" y="1281">J</text><text x="912.4" y="1281">F</text><text x="951.7" y="1281">M</text><text x="991.1" y="1281">A</text><text x="1030.5" y="1281">M</text><text x="1069.8" y="1281">J</text><text x="1109.2" y="1281">J</text><text x="1148.5" y="1281">A</text><text x="1187.9" y="1281">S</text><text x="1227.3" y="1281">O</text><text x="1266.6" y="1281">N</text><text x="1306" y="1281">D</text>
  <text x="1323" y="1281">J</text><text x="1362.4" y="1281">F</text><text x="1401.7" y="1281">M</text><text x="1441.1" y="1281">A</text><text x="1480.5" y="1281">M</text><text x="1519.8" y="1281">J</text><text x="1559.2" y="1281">J</text><text x="1598.5" y="1281">A</text><text x="1637.9" y="1281">S</text><text x="1677.3" y="1281">O</text><text x="1716.6" y="1281">N</text><text x="1756" y="1281">D</text>
</g>

<!-- ================= LEGEND ================= -->
<rect x="119" y="1067" width="191" height="116" rx="4" ry="4" fill="#fff" stroke="#d4d4d4" stroke-width="1.5"/>
<g stroke-width="2.6">
  <line x1="126" y1="1082" x2="165" y2="1082" stroke="#999"/>
  <line x1="126" y1="1110" x2="165" y2="1110" stroke="#000" stroke-dasharray="10.3,4.5"/>
  <line x1="126" y1="1138" x2="165" y2="1138" stroke="#ff1493"/>
  <line x1="126" y1="1165" x2="165" y2="1165" stroke="#000"/>
</g>
<g class="t">
  <text x="180" y="1088.8">BaseGeoDAR</text>
  <text x="180" y="1116.8">GloLakes</text>
  <text x="180" y="1144.8">Turn250</text>
  <text x="180" y="1171.8">Baseline</text>
</g>

<!-- ================= GLOBAL ================= -->
<text class="ti" x="304.5" y="572" text-anchor="middle">Global</text>
<text class="t" transform="translate(33,706) rotate(-90)" text-anchor="middle">Storage Fraction</text>
<text class="t" x="304.5" y="883" text-anchor="middle">Year</text>
<g stroke="#000" stroke-width="1.5">
  <line x1="81.7" y1="829.5" x2="88.2" y2="829.5"/>
  <line x1="81.7" y1="767.9" x2="88.2" y2="767.9"/>
  <line x1="81.7" y1="706.3" x2="88.2" y2="706.3"/>
  <line x1="81.7" y1="644.6" x2="88.2" y2="644.6"/>
  <line x1="81.7" y1="583" x2="88.2" y2="583"/>
  <path d="M98,829.5v6.5M196.3,829.5v6.5M294.5,829.5v6.5M392.8,829.5v6.5M491,829.5v6.5"/>
</g>
<g class="t" text-anchor="end">
  <text x="75" y="836.3">0.2</text>
  <text x="75" y="774.7">0.4</text>
  <text x="75" y="713.1">0.6</text>
  <text x="75" y="651.4">0.8</text>
  <text x="75" y="589.8">1.0</text>
</g>
<g class="t" text-anchor="middle">
  <text x="98" y="856.5">1980</text>
  <text x="196.3" y="856.5">1990</text>
  <text x="294.5" y="856.5">2000</text>
  <text x="392.8" y="856.5">2010</text>
  <text x="491" y="856.5">2020</text>
</g>
<g fill="none" stroke-width="2.6" stroke-linejoin="round">
  <polyline stroke="#000" points="88.2,693.9 98,698.5 107.9,700.1 117.7,699.5 127.5,692.4 137.3,699.5 147.2,697 157,697 166.8,700.7 176.6,700.1 186.5,697.6 196.3,692.4 206.1,692.4 215.9,696.4 225.8,690.8 235.6,695.5 245.4,694.5 255.2,693.3 265.1,689.3 274.9,686.2 284.7,693.9 294.5,698.5 304.4,698.5 314.2,700.7 324,701.6 333.8,697 343.7,697 353.5,702.5 363.3,701.9 373.1,700.1 383,698.5 392.8,695.5 402.6,696.4 412.4,702.5 422.3,697 432.1,700.1 441.9,700.1 451.7,693.9 461.6,697 471.4,697.6 481.2,695.5 491,694.8 500.9,695.1 510.7,696.1 520.5,697"/>
  <polyline stroke="#999" points="88.2,695.5 98,703.2 107.9,707.8 117.7,706.2 127.5,700.7 137.3,707.8 147.2,706.8 157,709.3 166.8,712.4 176.6,713 186.5,709.9 196.3,704.7 206.1,706.8 215.9,710.9 225.8,704.7 235.6,709.9 245.4,708.7 255.2,706.2 265.1,703.2 274.9,700.1 284.7,710.9 294.5,715.5 304.4,714.9 314.2,717 324,716.4 333.8,710.9 343.7,711.5 353.5,717 363.3,716.4 373.1,715.5 383,714 392.8,707.8 402.6,712.4 412.4,718 422.3,711.5 432.1,714.6 441.9,714 451.7,707.8 461.6,713 471.4,712.4 481.2,708.4 491,708.4 500.9,709.3 510.7,710.9 520.5,711.5"/>
  <polyline stroke="#ff1493" points="88.2,720.1 98,732.4 107.9,734.9 117.7,733.4 127.5,727.2 137.3,734 147.2,733.4 157,734.6 166.8,738 176.6,738 186.5,738 196.3,732.4 206.1,735.5 215.9,738 225.8,733 235.6,737.7 245.4,735.5 255.2,734 265.1,732.4 274.9,729.4 284.7,737.1 294.5,742.3 304.4,740.1 314.2,744.8 324,744.8 333.8,741.7 343.7,739.5 353.5,744.8 363.3,743.2 373.1,743.2 383,741.7 392.8,735.5 402.6,740.1 412.4,745.7 422.3,740.1 432.1,741.7 441.9,742.3 451.7,737.1 461.6,741.7 471.4,741.7 481.2,738.6 491,738 500.9,738 510.7,739.2 520.5,740.1"/>
  <polyline stroke="#000" stroke-dasharray="10.3,4.5" points="137.3,761.7 147.2,753.1 157,748.8 166.8,755.5 176.6,750.9 186.5,750.3 196.3,757.1 206.1,748.8 215.9,760.8 225.8,747.8 235.6,748.8 245.4,749.4 255.2,734 265.1,727.2 274.9,730.3 284.7,737.1 294.5,740.1 304.4,740.8 314.2,746.9 324,746.9 333.8,741.7 343.7,741.1 353.5,737.1 363.3,743.8 373.1,743.2 383,740.1 392.8,734 402.6,726.3 412.4,737.7 422.3,736.4 432.1,736.4 441.9,743.2 451.7,743.2 461.6,738.6 471.4,740.1 481.2,740.1 491,740.8 500.9,753.1 510.7,750.9 520.5,754"/>
</g>
<rect x="88.2" y="583" width="432.8" height="246.5" fill="none" stroke="#000" stroke-width="1.5"/>

</svg>
</body>
</html>
